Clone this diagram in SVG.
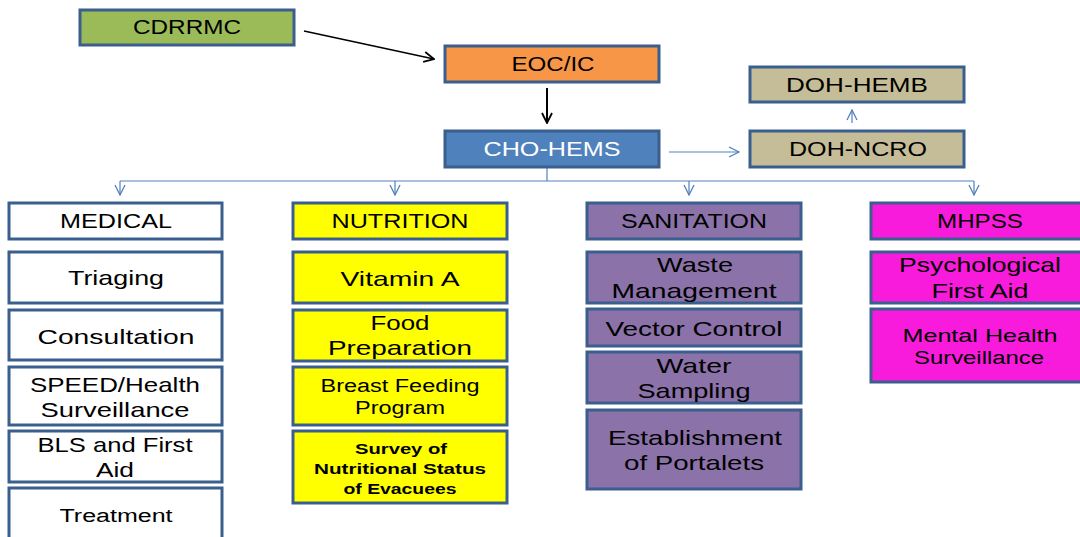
<svg xmlns="http://www.w3.org/2000/svg" width="1080" height="537" viewBox="0 0 1080 537">
<style>
rect.n{stroke:#3A5F8E;stroke-width:3}
text{font-family:"Liberation Sans",Arial,sans-serif;font-size:21px;fill:#000;text-anchor:middle}
text.s{font-size:18px}
text.b{font-size:15px;font-weight:bold}
text.w{fill:#fff}
.green{fill:#9BBB59}.orange{fill:#F79646}.blue{fill:#4F81BD}.tan{fill:#C4BD97}
.white{fill:#fff}.yellow{fill:#FFFF00}.purple{fill:#8B72A9}.pink{fill:#F81BDC}
.cb{stroke:#000;fill:none}
.cl{stroke:#4F81BD;stroke-width:1.2;fill:none}
</style>
<defs>
<marker id="ab" viewBox="0 0 12 12" refX="11" refY="6" markerWidth="12" markerHeight="12" markerUnits="userSpaceOnUse" orient="auto"><path d="M1,1 L11,6 L1,11" fill="none" stroke="#000" stroke-width="1.8"/></marker>
<marker id="al" viewBox="0 0 12 12" refX="11" refY="6" markerWidth="12" markerHeight="12" markerUnits="userSpaceOnUse" orient="auto"><path d="M1,1 L11,6 L1,11" fill="none" stroke="#4F81BD" stroke-width="1.3"/></marker>
</defs>
<g id="connectors">
<line class="cb" x1="304" y1="31" x2="434" y2="59" stroke-width="1.6" marker-end="url(#ab)"/>
<line class="cb" x1="547" y1="88" x2="547" y2="123" stroke-width="2" marker-end="url(#ab)"/>
<line class="cl" x1="669" y1="152" x2="739" y2="152" marker-end="url(#al)"/>
<line class="cl" x1="852" y1="123" x2="852" y2="110" marker-end="url(#al)"/>
<polyline class="cl" points="547,167 547,181"/>
<line class="cl" x1="120" y1="181" x2="974" y2="181"/>
<line class="cl" x1="120" y1="181" x2="120" y2="195" marker-end="url(#al)"/>
<line class="cl" x1="395" y1="181" x2="395" y2="195" marker-end="url(#al)"/>
<line class="cl" x1="689" y1="181" x2="689" y2="195" marker-end="url(#al)"/>
<line class="cl" x1="974" y1="181" x2="974" y2="195" marker-end="url(#al)"/>
</g>
<g id="cdrrmc"><rect class="n green" x="80" y="10" width="214" height="35"/><text x="187" y="34" textLength="108" lengthAdjust="spacingAndGlyphs">CDRRMC</text></g>
<g id="eoc"><rect class="n orange" x="445" y="46" width="214" height="36"/><text x="553" y="71" textLength="83" lengthAdjust="spacingAndGlyphs">EOC/IC</text></g>
<g id="chohems"><rect class="n blue" x="445" y="131" width="214" height="36"/><text class="w" x="552" y="156" textLength="137" lengthAdjust="spacingAndGlyphs">CHO-HEMS</text></g>
<g id="dohhemb"><rect class="n tan" x="750" y="67" width="214" height="35"/><text x="857" y="92" textLength="142" lengthAdjust="spacingAndGlyphs">DOH-HEMB</text></g>
<g id="dohncro"><rect class="n tan" x="750" y="131" width="214" height="36"/><text x="858" y="156" textLength="138" lengthAdjust="spacingAndGlyphs">DOH-NCRO</text></g>

<g id="medical"><rect class="n white" x="9" y="203" width="213" height="36"/><text x="116" y="228" textLength="112" lengthAdjust="spacingAndGlyphs">MEDICAL</text></g>
<g id="triaging"><rect class="n white" x="9" y="252" width="213" height="51"/><text x="116" y="285" textLength="96" lengthAdjust="spacingAndGlyphs">Triaging</text></g>
<g id="consultation"><rect class="n white" x="9" y="310" width="213" height="50"/><text x="116" y="344" textLength="157" lengthAdjust="spacingAndGlyphs">Consultation</text></g>
<g id="speed"><rect class="n white" x="9" y="367" width="213" height="58"/><text x="115" y="392" textLength="170" lengthAdjust="spacingAndGlyphs">SPEED/Health</text><text x="115" y="417" textLength="149" lengthAdjust="spacingAndGlyphs">Surveillance</text></g>
<g id="bls"><rect class="n white" x="9" y="431" width="213" height="51"/><text x="115" y="452" textLength="155" lengthAdjust="spacingAndGlyphs">BLS and First</text><text x="115" y="477" textLength="38" lengthAdjust="spacingAndGlyphs">Aid</text></g>
<g id="treatment"><rect class="n white" x="9" y="488" width="213" height="60"/><text class="s" x="116" y="522" textLength="113" lengthAdjust="spacingAndGlyphs">Treatment</text></g>

<g id="nutrition"><rect class="n yellow" x="293" y="203" width="214" height="36"/><text x="400" y="228" textLength="137" lengthAdjust="spacingAndGlyphs">NUTRITION</text></g>
<g id="vitamina"><rect class="n yellow" x="293" y="252" width="214" height="51"/><text x="400" y="286" textLength="119" lengthAdjust="spacingAndGlyphs">Vitamin A</text></g>
<g id="foodprep"><rect class="n yellow" x="293" y="310" width="214" height="51"/><text x="400" y="330" textLength="59" lengthAdjust="spacingAndGlyphs">Food</text><text x="400" y="355" textLength="144" lengthAdjust="spacingAndGlyphs">Preparation</text></g>
<g id="breastfeeding"><rect class="n yellow" x="293" y="367" width="214" height="58"/><text class="s" x="400" y="392" textLength="159" lengthAdjust="spacingAndGlyphs">Breast Feeding</text><text class="s" x="400" y="414" textLength="90" lengthAdjust="spacingAndGlyphs">Program</text></g>
<g id="survey"><rect class="n yellow" x="293" y="431" width="214" height="72"/><text class="b" x="401" y="454" textLength="92" lengthAdjust="spacingAndGlyphs">Survey of</text><text class="b" x="400" y="474" textLength="172" lengthAdjust="spacingAndGlyphs">Nutritional Status</text><text class="b" x="400" y="494" textLength="113" lengthAdjust="spacingAndGlyphs">of Evacuees</text></g>

<g id="sanitation"><rect class="n purple" x="587" y="203" width="214" height="36"/><text x="694" y="228" textLength="146" lengthAdjust="spacingAndGlyphs">SANITATION</text></g>
<g id="waste"><rect class="n purple" x="587" y="252" width="214" height="51"/><text x="695" y="272" textLength="76" lengthAdjust="spacingAndGlyphs">Waste</text><text x="694" y="298" textLength="165" lengthAdjust="spacingAndGlyphs">Management</text></g>
<g id="vector"><rect class="n purple" x="587" y="309" width="214" height="37"/><text x="694" y="336" textLength="177" lengthAdjust="spacingAndGlyphs">Vector Control</text></g>
<g id="water"><rect class="n purple" x="587" y="352" width="214" height="51"/><text x="694" y="373" textLength="75" lengthAdjust="spacingAndGlyphs">Water</text><text x="694" y="398" textLength="113" lengthAdjust="spacingAndGlyphs">Sampling</text></g>
<g id="portalets"><rect class="n purple" x="587" y="410" width="214" height="79"/><text x="695" y="445" textLength="174" lengthAdjust="spacingAndGlyphs">Establishment</text><text x="694" y="470" textLength="140" lengthAdjust="spacingAndGlyphs">of Portalets</text></g>

<g id="mhpss"><rect class="n pink" x="871" y="203" width="216" height="36"/><text x="980" y="228" textLength="86" lengthAdjust="spacingAndGlyphs">MHPSS</text></g>
<g id="pfa"><rect class="n pink" x="871" y="252" width="216" height="51"/><text x="980" y="272" textLength="162" lengthAdjust="spacingAndGlyphs">Psychological</text><text x="980" y="298" textLength="97" lengthAdjust="spacingAndGlyphs">First Aid</text></g>
<g id="mentalhealth"><rect class="n pink" x="871" y="309" width="216" height="73"/><text class="s" x="980" y="342" textLength="155" lengthAdjust="spacingAndGlyphs">Mental Health</text><text class="s" x="979" y="364" textLength="130" lengthAdjust="spacingAndGlyphs">Surveillance</text></g>
</svg>
